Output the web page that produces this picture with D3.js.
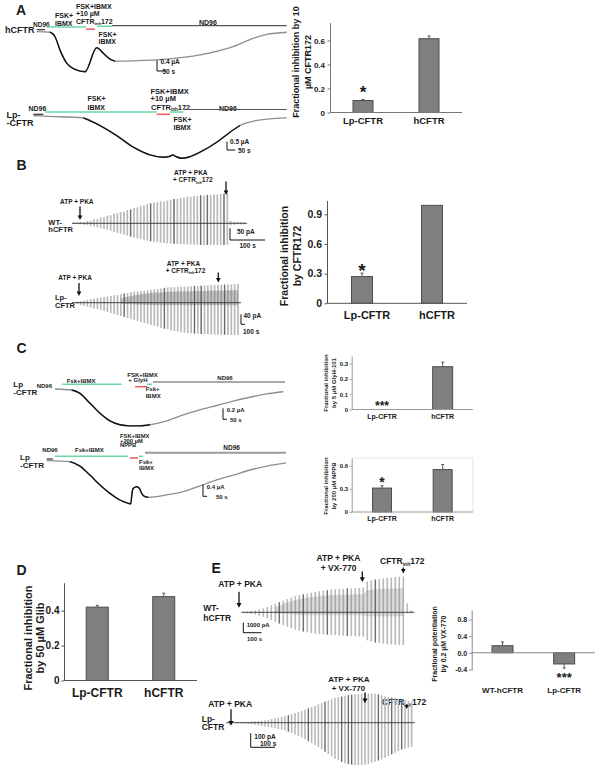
<!DOCTYPE html>
<html><head><meta charset="utf-8">
<script src="https://cdn.jsdelivr.net/npm/d3@7"></script>
<style>
body{margin:0;background:#fff}
svg{display:block}
text{font-family:"Liberation Sans",Arial,sans-serif;font-weight:bold;fill:#1a1a1a}
</style></head><body>
<svg id="c" width="600" height="776"></svg>
<script>
// ================= DATA =================
const barCats = ["Lp-CFTR", "hCFTR"];
const aVals = [0.10, 0.615], aErr = [0.008, 0.022];
const aTicks = [0, 0.2, 0.4, 0.6], aTickLabels = ["0", "0.2", "0.4", "0.6"];
const bVals = [0.27, 0.99], bErr = [0.035, 0];
const bTicks = [0, 0.3, 0.6, 0.9], bTickLabels = ["0", "0.3", "0.6", "0.9"];
const cGlyVals = [0, 0.28], cGlyErr = [0, 0.03];
const cGlyTicks = [0, 0.1, 0.2, 0.3], cGlyTickLabels = ["0", "0.1", "0.2", "0.3"];
const cNppbVals = [0.31, 0.55], cNppbErr = [0.03, 0.065];
const cNppbTicks = [0, 0.3, 0.6], cNppbTickLabels = ["0", "0.3", "0.6"];
const dVals = [0.42, 0.48], dErr = [0.01, 0.02];
const dTicks = [0, 0.2, 0.4], dTickLabels = ["0", "0.2", "0.4"];
const eCats = ["WT-hCFTR", "Lp-CFTR"];
const eVals = [0.17, -0.27], eErr = [0.09, 0.10];
const eTicks = [-0.4, 0, 0.4, 0.8], eTickLabels = ["-0.4", "0.0", "0.4", "0.8"];

// smooth current traces: [time s, current µA]
const aHTrace = [[0,0],[80,-0.02],[110,-0.19],[140,-0.69],[180,-1.18],[230,-1.41],[290,-1.50],[360,-0.60],[400,-0.81],[440,-1.03],[470,-1.10],[578,-1.09],[780,-1.03],[980,-0.87],[1178,-0.56],[1298,-0.25],[1380,-0.10],[1500,-0.02]];
const aHSol = [[0,50,"n"],[62,296,"g"],[296,350,"r"],[362,452,"g"],[452,1500,"k"]];
const aLpTrace = [[0,0],[70,-0.04],[300,-0.14],[400,-0.6],[500,-1.2],[600,-1.9],[700,-2.36],[780,-2.5],[820,-2.44],[836,-2.36],[856,-2.46],[890,-2.56],[930,-2.5],[1000,-2.2],[1100,-1.6],[1180,-1.0],[1240,-0.6],[1320,-0.34],[1400,-0.22],[1520,-0.14]];
const aLpSol = [[0,60,"n"],[70,740,"g"],[740,820,"r"],[820,900,"g"],[900,1520,"k"]];
const cGlyTrace = [[0,0],[208,-0.018],[312,-0.079],[437,-0.26],[562,-0.44],[687,-0.58],[812,-0.65],[937,-0.67],[1062,-0.67],[1187,-0.65],[1396,-0.58],[1604,-0.47],[1812,-0.38],[2021,-0.30],[2229,-0.22],[2437,-0.15],[2646,-0.09],[2854,-0.05]];
const cGlySol = [[87,837,"g"],[1000,1150,"r"],[1150,1212,"g"],[1225,2875,"k"]];
const cNppbTrace = [[0,0],[291,-0.03],[416,-0.18],[541,-0.48],[666,-0.81],[791,-1.09],[916,-1.31],[1020,-1.42],[1050,-1.44],[1066,-1.09],[1083,-0.92],[1125,-0.87],[1158,-0.92],[1187,-1.09],[1216,-1.18],[1270,-1.22],[1500,-1.14],[1708,-1.03],[1916,-0.84],[2125,-0.64],[2333,-0.48],[2541,-0.31],[2750,-0.18],[2991,-0.07]];
const cNppbSol = [[0,79,"n"],[104,1016,"g"],[1041,1141,"r"],[1154,1204,"g"],[1229,2991,"w"]];

// ramp sweeps: outward (up) and inward (down) peak currents, pA, one per sweep
const bWtUp = [3,4,6,6,10,11,17,18,24,26,33,35,41,43,49,51,57,59,66,68,75,76,83,85,89,90,94,94,98,99,104,105,110,110,114,114,117,117,120,119,122,121,124,123,126,127,130,10,7,6,6,5];
const bWtDown = [3,3,4,6,8,11,14,17,21,24,28,32,36,41,45,49,53,57,61,65,68,71,74,77,79,81,83,85,86,87,88,89,90,90,91,91,92,92,93,93,93,93,93,93,93,93,92,8,6,5,5,4];
const bWtDark = [17,23,30,38,40,45];
const bLpUp = [2,4,6,9,11,14,16,19,21,23,25,27,29,31,34,37,39,42,44,45,47,48,50,51,53,55,57,59,61,62,62,63,64,64,65,66,67,67,68,69,69,70,71,71,72,72,73,73,74,75];
const bLpDown = [2,5,9,12,16,19,23,26,29,33,37,41,45,49,53,57,61,65,69,73,77,81,85,89,93,96,100,104,107,110,113,115,118,120,121,122,123,124,125,126,126,127,127,128,128,128,129,129,129,129];
const bLpDark = [15,27,36,38,45];
const bLpBand = [[14,18,4],[20,34,8],[26,42,10],[32,45,10],[38,47,10],[44,49,10],[49,50,10]];
const eWtUp = [30,80,150,210,300,400,520,700,850,1000,1170,1320,1480,1620,1720,1800,1880,1960,2040,2110,2170,2220,2270,2310,2340,2360,2390,2400,2430,2450,2480,3080,3200,3280,3330,3400,3440,3480,3520,3560,3570,900,200];
const eWtDown = [30,90,170,240,330,450,620,790,960,1120,1300,1450,1600,1730,1830,1920,2000,2080,2140,2180,2210,2240,2260,2280,2310,2330,2360,2370,2400,2420,2440,2800,2920,3020,3080,3140,3180,3220,3250,3270,3270,100,50];
const eWtDark = [9,15,21,26,33];
const eWtBand = [[8,500,100],[12,1100,200],[16,1450,300],[20,1650,300],[25,1750,300],[30,1800,300],[31,2200,400],[35,2350,400],[40,2400,400]];
const eLpUp = [1,2,3,4,5,6,7,8,10,13,15,18,21,26,31,36,41,47,54,61,68,75,84,93,102,112,121,131,140,150,160,169,177,182,187,192,196,200,203,205,207,209,209,208,206,203,196,189,184,179,174,169,165,161,156,152];
const eLpDown = [1,2,3,4,5,6,8,11,15,19,23,27,31,35,40,45,50,56,65,75,85,95,105,118,132,146,160,174,190,207,224,240,257,268,279,289,296,300,302,302,302,300,294,286,278,270,262,250,238,226,214,202,192,185,178,172];
const eLpDark = [18,24,29,34,36,37,45,49,52];

// ================= DRAWING =================
const svg = d3.select("#c");
const SOL = {n:{c:"#333",w:1.2}, g:{c:"#6ad9a4",w:1.6}, r:{c:"#ef6464",w:1.6}, k:{c:"#555",w:1.2}, w:{c:"#9a9a9a",w:2}};

function T(x, y, s, size, anchor) {
  return svg.append("text").attr("x", x).attr("y", y).attr("font-size", size)
    .attr("text-anchor", anchor || "start").text(s);
}
function Tinh(x, y, prefix, size) {
  const t = svg.append("text").attr("x", x).attr("y", y).attr("font-size", size);
  t.append("tspan").text(prefix + "CFTR");
  t.append("tspan").attr("font-size", size * 0.6).attr("dy", size * 0.25).text("inh");
  t.append("tspan").attr("dy", -size * 0.25).text("172");
  return t;
}
function arrow(x, y1, y2, h) {
  svg.append("line").attr("x1", x).attr("x2", x).attr("y1", y1).attr("y2", y2 - h)
    .attr("stroke", "#111").attr("stroke-width", 1.3);
  svg.append("path").attr("d", `M${x - h * 0.9},${y2 - h * 1.7}L${x + h * 0.9},${y2 - h * 1.7}L${x},${y2}Z`).attr("fill", "#111");
}
function scaleBar(sx, sy, vh, hw) {
  svg.append("path").attr("d", `M${sx},${sy - vh}V${sy}H${sx + hw}`)
    .attr("fill", "none").attr("stroke", "#111").attr("stroke-width", 1);
}

function smoothTrace(cfg) {
  const pts = cfg.pts;
  const x = d3.scaleLinear().domain([0, pts[pts.length - 1][0]]).range([cfg.x0, cfg.x1]);
  const y = d3.scaleLinear().domain([0, -1]).range([cfg.y0, cfg.y0 + cfg.ppu]);
  cfg.sol.forEach(b => {
    const st = SOL[b[2]];
    const yy = cfg.barY[b[2]] + (b[2] === "g" && b[0] > cfg.g2 ? cfg.g2dy : 0);
    svg.append("line").attr("x1", x(b[0])).attr("x2", x(b[1])).attr("y1", yy).attr("y2", yy)
      .attr("stroke", st.c).attr("stroke-width", st.w);
  });
  const line = d3.line().x(d => x(d[0])).y(d => y(d[1])).curve(d3.curveMonotoneX);
  svg.append("path").attr("d", line(pts)).attr("fill", "none").attr("stroke", "#8e8e8e").attr("stroke-width", 1.3);
  svg.append("path").attr("d", line(pts.slice(cfg.black[0], cfg.black[1] + 1)))
    .attr("fill", "none").attr("stroke", "#111").attr("stroke-width", 1.4);
  scaleBar(cfg.sb[0], cfg.sb[1], y(-cfg.sbAmp) - y(0), x(cfg.sbTime) - x(0));
}

function sweepTrace(cfg) {
  const n = cfg.up.length;
  const x = d3.scaleLinear().domain([0, (n - 1) * cfg.dt]).range([cfg.x0, cfg.x1]);
  const y = d3.scaleLinear().domain([0, 1]).range([cfg.y0, cfg.y0 - cfg.ppu]);
  const g = svg.append("g");
  g.selectAll("line.sw").data(d3.range(n)).join("line").attr("class", "sw")
    .attr("x1", i => x(i * cfg.dt)).attr("x2", i => x(i * cfg.dt))
    .attr("y1", i => y(cfg.up[i])).attr("y2", i => y(-cfg.down[i]))
    .attr("stroke", "#b9b9b9").attr("stroke-width", cfg.sw);
  if (cfg.band) {
    const ar = d3.area().x(d => x(d[0] * cfg.dt)).y0(d => y(-d[2])).y1(d => y(d[1])).curve(d3.curveMonotoneX);
    g.append("path").attr("d", ar(cfg.band)).attr("fill", "#6f6f6f").attr("opacity", cfg.bandOp);
  }
  g.selectAll("line.dk").data(cfg.dark).join("line").attr("class", "dk")
    .attr("x1", i => x(i * cfg.dt)).attr("x2", i => x(i * cfg.dt))
    .attr("y1", i => y(cfg.up[i])).attr("y2", i => y(-cfg.down[i]))
    .attr("stroke", "#555").attr("stroke-width", 0.9);
  g.append("line").attr("x1", cfg.x0 - 2).attr("x2", cfg.x1 + 3).attr("y1", cfg.y0).attr("y2", cfg.y0)
    .attr("stroke", "#333").attr("stroke-width", 0.9);
  scaleBar(cfg.sb[0], cfg.sb[1], y(0) - y(cfg.sbAmp), cfg.sbW != null ? cfg.sbW : x(cfg.sbTime) - x(0));
}

function barChart(cfg) {
  const g = svg.append("g");
  const x = d3.scalePoint().domain(cfg.cats).range([cfg.x0, cfg.x1]).padding(0.5);
  const y = d3.scaleLinear().domain(cfg.domain).range([cfg.yb, cfg.yt]);
  if (cfg.frame) {
    g.append("path").attr("d", `M${cfg.x0},${cfg.yt}H${cfg.x1}V${y(0)}`).attr("fill", "none").attr("stroke", "#e4e4e4");
  }
  g.selectAll("rect").data(cfg.cats).join("rect")
    .attr("x", d => x(d) - cfg.bw / 2)
    .attr("y", (d, i) => y(Math.max(0, cfg.vals[i])))
    .attr("width", cfg.bw)
    .attr("height", (d, i) => Math.abs(y(cfg.vals[i]) - y(0)))
    .attr("fill", "#7f7f7f").attr("stroke", "#4d4d4d").attr("stroke-width", 1);
  g.selectAll("path.err").data(cfg.cats.filter((d, i) => cfg.errs[i] > 0)).join("path").attr("class", "err")
    .attr("d", d => {
      const i = cfg.cats.indexOf(d), v = cfg.vals[i], e = v >= 0 ? v + cfg.errs[i] : v - cfg.errs[i];
      const cx = x(d);
      return `M${cx},${y(v)}V${y(e)}M${cx - 1.5},${y(e)}H${cx + 1.5}`;
    }).attr("stroke", "#555").attr("stroke-width", 1).attr("fill", "none");
  const ax = d3.axisLeft(y).tickValues(cfg.ticks).tickFormat((d, i) => cfg.tickLabels[i])
    .tickSize(cfg.tks != null ? cfg.tks : 2.5).tickSizeOuter(0).tickPadding(cfg.tpad != null ? cfg.tpad : 3);
  const ag = g.append("g").attr("transform", `translate(${cfg.x0},0)`).call(ax);
  ag.attr("font-family", null).attr("font-size", cfg.tfs).attr("font-weight", "bold");
  ag.selectAll("path,line").attr("stroke", cfg.axc);
  ag.selectAll("text").attr("fill", "#1a1a1a");
  g.append("line").attr("x1", cfg.x0).attr("x2", cfg.x1).attr("y1", y(0)).attr("y2", y(0)).attr("stroke", cfg.axc).attr("stroke-width", 1);
  cfg.cats.forEach(c => T(x(c) + (cfg.lblDx || 0), cfg.lblY, c, cfg.lfs, "middle"));
  cfg.ylab.forEach((s, k) => {
    svg.append("text").attr("transform", `translate(${cfg.ylabX[k]},${cfg.ylabY}) rotate(-90)`)
      .attr("text-anchor", "middle").attr("font-size", cfg.yfs).text(s);
  });
  (cfg.stars || []).forEach(st => {
    const i = st[0], v = cfg.vals[i], e = v >= 0 ? v + cfg.errs[i] : v - cfg.errs[i];
    const cy = v >= 0 ? y(e) - st[3] : y(e) + st[3];
    T(x(cfg.cats[i]), cy + 0.57 * st[2], st[1], st[2], "middle");
  });
}

// ---------- Panel A ----------
T(16, 15, "A", 14);
T(5, 33, "hCFTR", 9);
T(33, 26.5, "ND96", 6.5);
T(55, 18, "FSK+", 7); T(55, 25.5, "IBMX", 7);
T(76, 9, "FSK+IBMX", 7); T(76, 16.3, "+10 µM", 7); Tinh(76, 23.5, "", 7);
T(98.5, 36.5, "FSK+", 7); T(98.5, 44, "IBMX", 7);
T(199, 25, "ND96", 7);
smoothTrace({pts: aHTrace, sol: aHSol, x0: 36.7, x1: 286.7, y0: 31.7, ppu: 26.7, black: [1, 10],
  barY: {n: 29.7, g: 27, r: 29.2, k: 25.7}, g2: 300, g2dy: -0.7, sb: [157, 71], sbAmp: 0.4, sbTime: 50});
T(160.5, 64, "0.4 µA", 6.5); T(162.5, 73.5, "50 s", 6.5);

T(6.5, 117.5, "Lp-", 9); T(6.5, 126, "-CFTR", 9);
T(28.5, 111, "ND96", 7);
T(87.5, 101, "FSK+", 7); T(87.5, 109.5, "IBMX", 7);
T(150.5, 93.5, "FSK+IBMX", 7.5); T(150.5, 101, "+10 µM", 7.5); Tinh(151, 109.5, "", 7.5);
T(173.5, 122, "FSK+", 7); T(173.5, 130, "IBMX", 7);
T(219, 111, "ND96", 7);
smoothTrace({pts: aLpTrace, sol: aLpSol, x0: 33.3, x1: 286.7, y0: 115.5, ppu: 16.7, black: [2, 16],
  barY: {n: 114.3, g: 112, r: 114.3, k: 109.5}, g2: 800, g2dy: 0, sb: [227, 150], sbAmp: 0.5, sbTime: 50});
T(230, 143.5, "0.5 µA", 6.5); T(238, 152.5, "50 s", 6.5);

barChart({cats: barCats, vals: aVals, errs: aErr, ticks: aTicks, tickLabels: aTickLabels,
  x0: 330, x1: 462, domain: [0, 0.75], yb: 112.5, yt: 22.5, bw: 20, tfs: 8, tpad: 2.5, axc: "#777",
  lblY: 123.5, lfs: 9.5, ylab: ["Fractional inhibition by 10", "µM CFTR172"], ylabX: [299, 311], ylabY: 62, yfs: 9,
  stars: [[0, "*", 17, 11.5]]});

// ---------- Panel B ----------
T(16.5, 170, "B", 14);
T(60, 204.3, "ATP + PKA", 6.5);
T(174, 175, "ATP + PKA", 6.5); Tinh(173, 182, "+ ", 6.5);
T(48.3, 224.5, "WT-", 7.5); T(48.3, 232, "hCFTR", 7.5);
sweepTrace({up: bWtUp, down: bWtDown, dark: bWtDark, dt: 9.5, x0: 74, x1: 244, y0: 223.3, ppu: 0.233, sw: 1.7,
  sb: [230, 240], sbAmp: 50, sbTime: 100});
arrow(80, 206.5, 220, 2.6); arrow(226, 181.5, 195, 2.6);
T(237, 233.5, "50 pA", 6.5); T(239.5, 247.5, "100 s", 6.5);

T(58.3, 280, "ATP + PKA", 6.5);
T(166.7, 266, "ATP + PKA", 6.5); Tinh(165.7, 272.8, "+ ", 6.5);
T(55, 300, "Lp-", 7.5); T(55, 307.5, "CFTR", 7.5);
sweepTrace({up: bLpUp, down: bLpDown, dark: bLpDark, band: bLpBand, bandOp: 0.4, dt: 10, x0: 74, x1: 238, y0: 302.7, ppu: 0.25, sw: 1.7,
  sb: [241, 324.3], sbAmp: 40, sbTime: 100, sbW: 4});
arrow(79, 283, 296, 2.6); arrow(218.3, 272.5, 282.5, 2.6);
T(243.5, 318, "40 pA", 6.5); T(243, 333.5, "100 s", 6.5);

barChart({cats: barCats, vals: bVals, errs: bErr, ticks: bTicks, tickLabels: bTickLabels,
  x0: 327, x1: 467, domain: [0, 1.04], yb: 303.3, yt: 200.4, bw: 21, tfs: 10.5, tpad: 2.5, axc: "#555",
  lblY: 319, lfs: 11, lblDx: 5, ylab: ["Fractional inhibition", "by CFTR172"], ylabX: [288, 300.5], ylabY: 256, yfs: 10.5,
  stars: [[0, "*", 19, 6.5]]});

// ---------- Panel C ----------
T(16.5, 352.7, "C", 14);
T(13.3, 387, "Lp", 8); T(13.3, 394.5, "-CFTR", 8);
T(36.7, 388, "ND96", 6);
T(66.7, 382.5, "Fsk+IBMX", 6);
T(127.3, 376.5, "FSK+IBMX", 6); T(128.3, 382.3, "+ GlyH", 6);
T(145.7, 391.2, "Fsk+", 6); T(145.7, 397.5, "IBMX", 6);
T(217.3, 380.2, "ND96", 6);
smoothTrace({pts: cGlyTrace, sol: cGlySol, x0: 55, x1: 283.3, y0: 389, ppu: 55, black: [1, 9],
  barY: {g: 384.3, r: 386.7, k: 382}, g2: 99999, g2dy: 0, sb: [223, 419.3], sbAmp: 0.2, sbTime: 50});
T(226.7, 411.8, "0.2 µA", 6); T(230, 422, "50 s", 6);

T(20, 460.3, "Lp", 8); T(20, 467.8, "-CFTR", 8);
T(42.3, 452.3, "ND96", 6);
T(75, 452, "Fsk+IBMX", 6);
T(120, 437.7, "FSK+IBMX", 5.8); T(120, 442.5, "+200 µM", 5.8); T(120, 447.2, "NPPB", 5.8);
T(139, 463.8, "Fsk+", 6); T(139, 469.5, "IBMX", 6);
T(223.3, 450, "ND96", 6.5);
smoothTrace({pts: cNppbTrace, sol: cNppbSol, x0: 46.7, x1: 286, y0: 460.7, ppu: 30, black: [1, 15],
  barY: {n: 459, g: 456.3, r: 458, w: 452.7}, g2: 99999, g2dy: 0, sb: [203, 496.3], sbAmp: 0.4, sbTime: 50});
T(206.7, 488.8, "0.4 µA", 6); T(216, 498.8, "50 s", 6);

barChart({cats: barCats, vals: cGlyVals, errs: cGlyErr, ticks: cGlyTicks, tickLabels: cGlyTickLabels,
  x0: 351.7, x1: 473, domain: [0, 0.35], yb: 409.5, yt: 356, bw: 20, tfs: 6, tpad: 1.5, tks: 2, axc: "#999",
  lblY: 419, lfs: 7, ylab: ["Fractional inhibition", "by 5 µM GlyH-101"], ylabX: [328, 336], ylabY: 383, yfs: 6,
  stars: [[0, "***", 12, 6]]});
barChart({cats: barCats, vals: cNppbVals, errs: cNppbErr, ticks: cNppbTicks, tickLabels: cNppbTickLabels,
  x0: 351.7, x1: 473, domain: [0, 0.7], yb: 512, yt: 458, bw: 19, tfs: 6, tpad: 1.5, tks: 2, axc: "#999", frame: true,
  lblY: 520.5, lfs: 7, ylab: ["Fractional inhibition", "by 200 µM NPPB"], ylabX: [328, 336], ylabY: 486, yfs: 6,
  stars: [[0, "*", 14, 6.5]]});

// ---------- Panel D ----------
T(16.5, 575, "D", 14);
barChart({cats: barCats, vals: dVals, errs: dErr, ticks: dTicks, tickLabels: dTickLabels,
  x0: 64, x1: 197, domain: [0, 0.56], yb: 680.5, yt: 582.7, bw: 22, tfs: 10, tpad: 2, axc: "#555",
  lblY: 697, lfs: 12, ylab: ["Fractional inhibition", "by 50 µM Glib"], ylabX: [32, 44], ylabY: 638, yfs: 11});

// ---------- Panel E ----------
T(211.5, 572.7, "E", 14);
T(218.3, 587.3, "ATP + PKA", 8.5);
T(316.5, 561, "ATP + PKA", 8.5); T(320.7, 571, "+ VX-770", 8.5);
Tinh(380, 564, "", 8.5);
T(203.3, 610.7, "WT-", 8.5); T(203.3, 621, "hCFTR", 8.5);
sweepTrace({up: eWtUp, down: eWtDown, dark: eWtDark, band: eWtBand, bandOp: 0.25, dt: 22, x0: 243.3, x1: 411.3, y0: 612.3, ppu: 0.01, sw: 1.6,
  sb: [243.3, 632.7], sbAmp: 1000, sbTime: 100});
arrow(239, 591.7, 607.7, 2.8); arrow(362.3, 571.5, 582, 2.8); arrow(403.3, 567.5, 573.5, 2.6);
T(246.7, 627, "1000 pA", 6); T(247, 640.5, "100 s", 6);

T(208.3, 707.3, "ATP + PKA", 8.5);
T(328.3, 681.8, "ATP + PKA", 8); T(331.7, 690.7, "+ VX-770", 8);
Tinh(381.7, 704.5, "", 8.5);
T(201.7, 721.7, "Lp-", 8.5); T(201.7, 730.2, "CFTR", 8.5);
sweepTrace({up: eLpUp, down: eLpDown, dark: eLpDark, dt: 13.7, x0: 228.3, x1: 411.7, y0: 722.7, ppu: 0.14, sw: 1.6,
  sb: [250.7, 747.3], sbAmp: 100, sbTime: 100});
arrow(231, 709.3, 725.7, 2.8); arrow(365, 692.5, 703.3, 2.8); arrow(406.7, 705.5, 709, 2.4);
T(254.3, 739, "100 pA", 6.5); T(260, 746, "100 s", 6.5);

barChart({cats: eCats, vals: eVals, errs: eErr, ticks: eTicks, tickLabels: eTickLabels,
  x0: 471.7, x1: 595, domain: [-0.42, 1.03], yb: 670.2, yt: 610, bw: 21, tfs: 7, tpad: 2, axc: "#888",
  lblY: 692.5, lfs: 8, ylab: ["Fractional potentiation", "by 0.2 µM VX-770"], ylabX: [437, 445.5], ylabY: 644, yfs: 7,
  stars: [[1, "***", 13, 6]]});
</script>
</body></html>
